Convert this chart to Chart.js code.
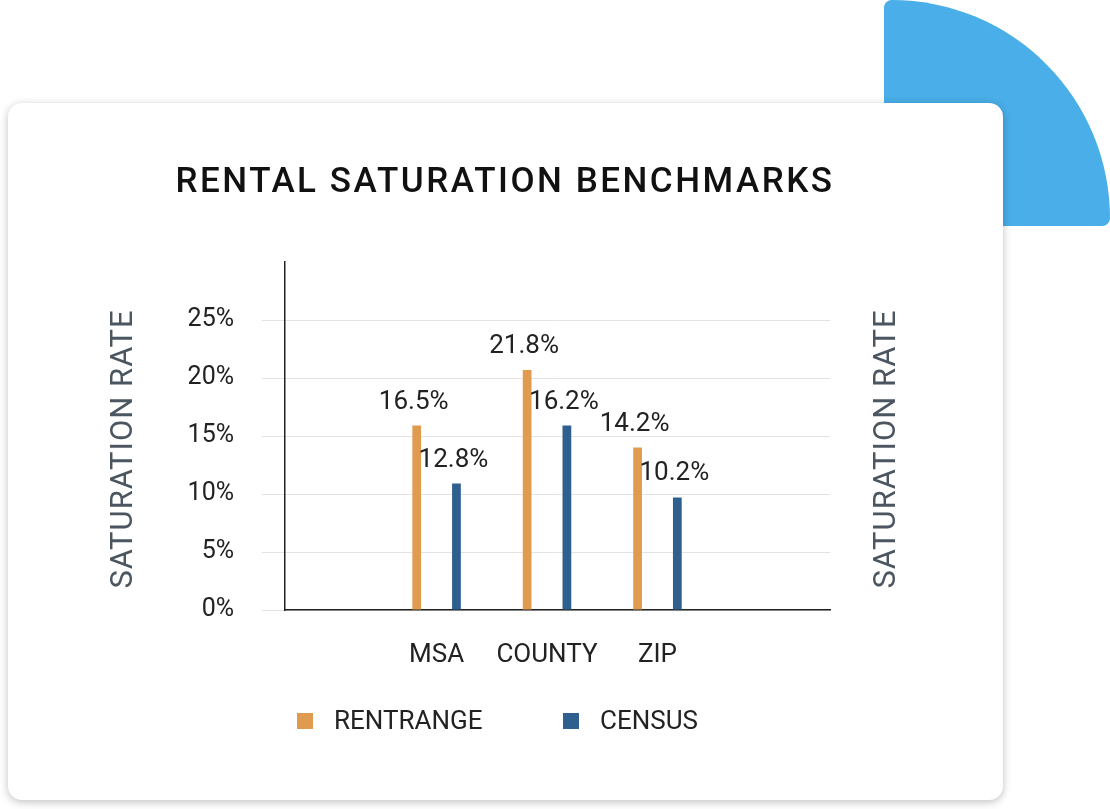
<!DOCTYPE html>
<html><head><meta charset="utf-8">
<script src="https://cdn.jsdelivr.net/npm/chart.js@4/dist/chart.umd.min.js"></script>
<style>
html,body{margin:0;padding:0;background:#fff;width:1110px;height:809px;overflow:hidden;font-family:Roboto,sans-serif}
#blob{position:absolute;left:884px;top:0;width:226px;height:226px;background:#4aaee8;border-top-right-radius:226px;border-top-left-radius:8px;border-bottom-right-radius:8px 8px;}
#card{position:absolute;left:8px;top:103px;width:995px;height:697px;background:#fff;border-radius:14px;box-shadow:0 2px 8px rgba(0,0,0,0.25)}
#c{position:absolute;left:0;top:0}
</style></head><body>
<div id="blob"></div><div id="card"></div>
<canvas id="c" width="1110" height="809"></canvas>
<script>
const categories=['MSA','COUNTY','ZIP'];
const rentrangeValues=[15.9,20.7,14.0];
const censusValues=[10.9,15.9,9.7];
const rentrangeLabels=['16.5%','21.8%','14.2%'];
const censusLabels=['12.8%','16.2%','10.2%'];
const seriesNames=['RENTRANGE','CENSUS'];
const colors=['#e09b50','#2f5f8e'];
const FONT='Roboto, sans-serif';
const deco={id:'deco',afterDraw(ch){
 const c=ch.ctx;c.save();
 c.fillStyle='#111';c.font='500 35px '+FONT;c.textAlign='center';c.textBaseline='middle';
 c.letterSpacing='2.5px';c.fillText('RENTAL SATURATION BENCHMARKS',505,183);c.letterSpacing='0px';
 c.fillStyle='#4b5661';c.font='31px '+FONT;
 [124,887].forEach(x=>{c.save();c.translate(x,449);c.rotate(-Math.PI/2);c.letterSpacing='1px';c.fillText('SATURATION RATE',0,0);c.restore();});
 c.fillStyle='#222';c.font='26px '+FONT;c.textBaseline='alphabetic';c.letterSpacing='0px';
 const labs=[rentrangeLabels,censusLabels];
 ch.data.datasets.forEach((d,i)=>{ch.getDatasetMeta(i).data.forEach((b,j)=>{c.fillText(labs[i][j],b.x-3,b.y-17);});});
 c.textAlign='left';c.textBaseline='middle';c.font='26px '+FONT;
 const lx=[297,563];
 ch.data.datasets.forEach((d,i)=>{c.fillStyle=d.backgroundColor;c.fillRect(lx[i],713,16,16);c.fillStyle='#222';c.fillText(d.label,lx[i]+37,722);});
 c.restore();}};
new Chart(document.getElementById('c'),{type:'bar',
 data:{datasets:[
  {label:seriesNames[0],data:rentrangeValues.map((v,i)=>({x:i,y:v})),backgroundColor:colors[0]},
  {label:seriesNames[1],data:censusValues.map((v,i)=>({x:i,y:v})),backgroundColor:colors[1]}]},
 options:{responsive:false,animation:false,devicePixelRatio:1,
  layout:{padding:{top:262,left:0,right:0,bottom:0}},
  datasets:{bar:{categoryPercentage:0.72,barPercentage:0.22}},
  plugins:{legend:{display:false},tooltip:{enabled:false},title:{display:false}},
  scales:{
   x:{type:'linear',min:-0.55,max:2.74,afterFit(s){s.height=199},
      afterBuildTicks(s){s.ticks=categories.map((_,i)=>({value:i}));},
      grid:{display:false},border:{color:'#222',width:1.5},
      ticks:{color:'#222',font:{size:26,family:FONT},padding:22,callback:v=>categories[v]||''}},
   y:{min:0,max:30,afterFit(s){s.width=285},
      grid:{color:ctx=>ctx.tick&&ctx.tick.value===30?'rgba(0,0,0,0)':'#e3e3e3',tickLength:23,tickColor:ctx=>ctx.tick&&ctx.tick.value===30?'rgba(0,0,0,0)':'#e3e3e3'},
      border:{color:'#222',width:1.5},
      ticks:{stepSize:5,color:'#222',padding:28,font:{size:25,family:FONT},callback:v=>v===30?'':v+'%'}},
   y2:{position:'right',min:0,max:30,afterFit(s){s.width=280},grid:{display:false,drawOnChartArea:false},border:{display:false},ticks:{display:false}}
  }},
 plugins:[deco]});
</script></body></html>
